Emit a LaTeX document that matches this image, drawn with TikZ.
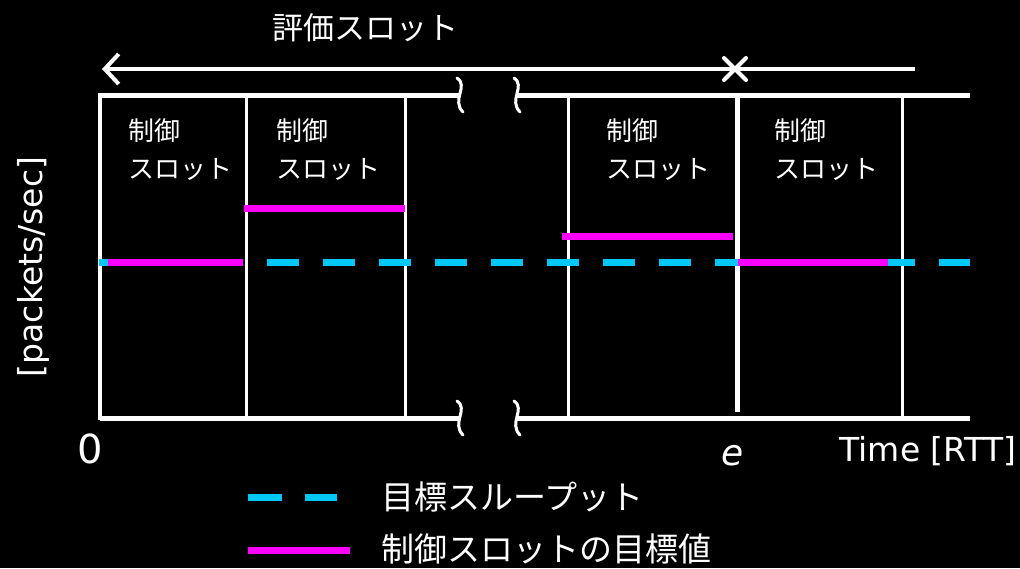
\documentclass[tikz,border=0pt]{standalone}
\usepackage{fontspec}
\setmainfont{Noto Sans CJK JP}
\newfontfamily\latinfont{DejaVu Sans}
\usetikzlibrary{arrows.meta,calc}
\definecolor{tcyan}{RGB}{0,200,245}
\definecolor{tmag}{RGB}{255,0,255}
\begin{document}
\begin{tikzpicture}[x=1pt,y=-1pt,
  frame/.style={white,line width=5pt},
  slotline/.style={white,line width=3pt},
  squig/.style={white,line width=3pt,line cap=round},
  target/.style={tcyan,line width=7pt,dash pattern=on 32pt off 24pt},
  ctrl/.style={tmag,line width=7pt},
  lbl/.style={white,font=\fontsize{31}{36}\selectfont,inner sep=0pt},
  leglbl/.style={white,font=\fontsize{33}{38}\selectfont,inner sep=0pt,anchor=west},
  latlbl/.style={white,inner sep=0pt},
  slotlbl/.style={white,font=\fontsize{26}{38}\selectfont,align=left,anchor=north west,inner sep=0pt}]
\fill[black] (0,0) rectangle (1020,568);
\useasboundingbox (0,0) rectangle (1020,568);
% evaluation slot arrow
\coordinate (al) at (102,69); \coordinate (ar) at (915,69);
\draw[white,line width=4pt,{Straight Barb[length=14pt,width=30pt,line width=4pt]}-] (al) -- (ar);
\coordinate (xm) at (735,69);
\draw[white,line width=4pt,line cap=round] ($(xm)+(-11,-11)$) -- ($(xm)+(11,11)$);
\draw[white,line width=4pt,line cap=round] ($(xm)+(11,-11)$) -- ($(xm)+(-11,11)$);
\node[lbl] (eval) at (365,28) {評価スロット};
% frame
\coordinate (tl) at (100,95); \coordinate (bl) at (100,418);
\coordinate (tb1) at (460,95); \coordinate (tb2) at (517,95);
\coordinate (bb1) at (460,418); \coordinate (bb2) at (517,418);
\coordinate (tr) at (970,95); \coordinate (br) at (970,418);
\draw[frame] (tl) -- (tb1);
\draw[frame] (tb2) -- (tr);
\draw[frame] (bl) -- (bb1);
\draw[frame] (bb2) -- (br);
\draw[white,line width=4pt] (100,93) -- (100,420);
% break marks
\foreach \xx/\yy in {460/95,517/95,460/418,517/418}{
  \draw[squig] (\xx-3,\yy-17) .. controls (\xx+9,\yy-9) and (\xx-9,\yy+5) .. (\xx+3,\yy+17);
}
% slot lines
\foreach \xx in {246,405,568,902}{
  \draw[slotline] (\xx,95) -- (\xx,418);
}
\draw[white,line width=5pt] (737,95) -- (737,412);
% target throughput
\draw[target] (99,262) -- (970,262);
% control targets
\draw[ctrl] (108,262) -- (243,262);
\draw[ctrl] (244,208) -- (405,208);
\draw[ctrl] (562,236) -- (733,236);
\draw[ctrl] (738,262) -- (888,262);
% slot labels
\node[slotlbl] (s1) at (128,118) {制御\\スロット};
\node[slotlbl] (s2) at (276,118) {制御\\スロット};
\node[slotlbl] (s3) at (606,118) {制御\\スロット};
\node[slotlbl] (s4) at (774,118) {制御\\スロット};
% axes labels
\node[latlbl,rotate=90,font=\latinfont\fontsize{33}{36}\selectfont] (ylab) at (33,267) {[packets/sec]};
\node[latlbl,font=\latinfont\fontsize{40}{44}\selectfont] (zero) at (90,449) {0};
\node[latlbl,font=\latinfont\itshape\fontsize{36}{40}\selectfont] (e) at (733,456) {e};
\node[latlbl,anchor=east,font=\latinfont\fontsize{33}{38}\selectfont] (time) at (1017,451) {Time [RTT]};
% legend
\coordinate (l1a) at (248,497); \coordinate (l1b) at (337,497);
\draw[tcyan,line width=7pt,dash pattern=on 34pt off 23pt] (l1a) -- (l1b);
\coordinate (l2a) at (248,550); \coordinate (l2b) at (350,550);
\draw[ctrl] (l2a) -- (l2b);
\node[leglbl] (leg1) at (381,497) {目標スループット};
\node[leglbl] (leg2) at (381,549) {制御スロットの目標値};
\end{tikzpicture}
\end{document}
